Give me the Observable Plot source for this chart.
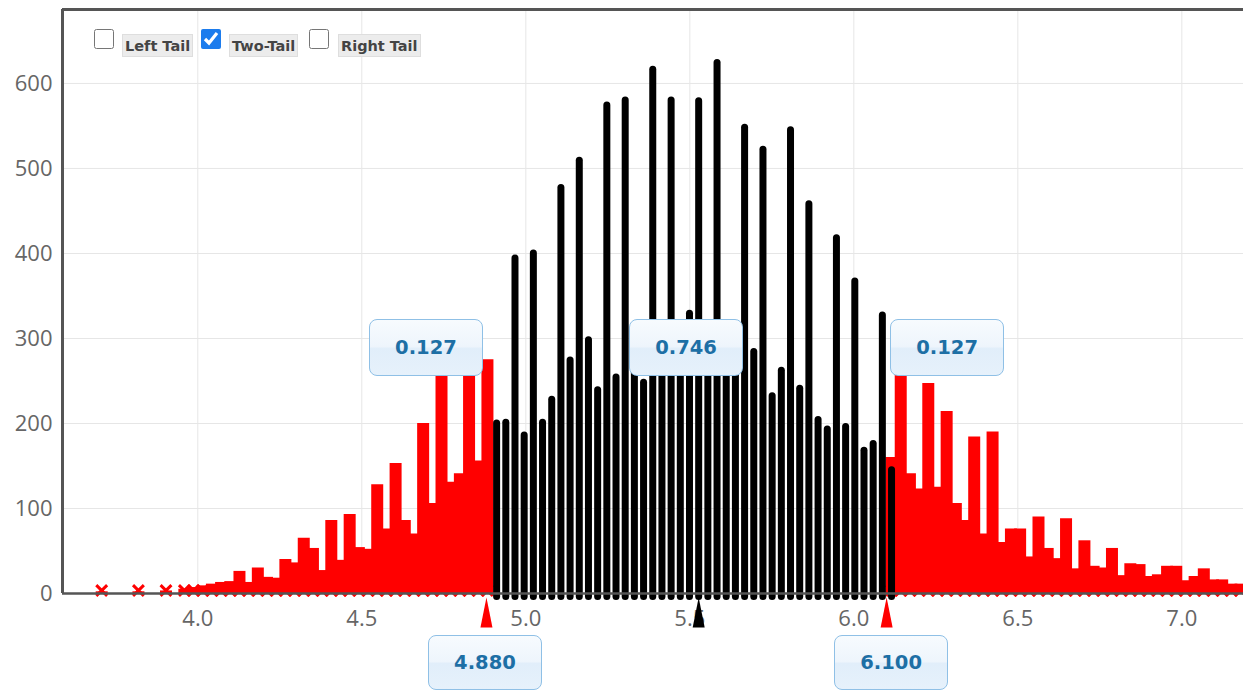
<!DOCTYPE html>
<html><head><meta charset="utf-8">
<script src="https://cdn.jsdelivr.net/npm/d3@7"></script>
<script src="https://cdn.jsdelivr.net/npm/@observablehq/plot@0.6"></script>
<style>
html,body{margin:0;padding:0;background:#fff;}
#wrap{position:relative;width:1243px;height:691px;overflow:hidden;font-family:"DejaVu Sans",sans-serif;}
#wrap svg{position:absolute;left:0;top:0;}
.cb{position:absolute;top:29px;width:20px;height:20px;margin:0;accent-color:#1c7ced;}
.lbl{position:absolute;top:34px;height:21px;line-height:22px;padding:0 2px;background:#ececec;border:1px solid #dedede;font-weight:bold;font-size:14.5px;color:#444;white-space:nowrap;}
.val{position:absolute;width:114px;box-sizing:border-box;border:1.5px solid #8fc0e6;border-radius:8px;
  background:linear-gradient(to bottom,#f7fbfe 0%,#eef5fc 48%,#e1eefa 52%,#e6f1fb 100%);
  color:#1d6fa5;font-weight:bold;font-size:19.5px;display:flex;align-items:center;justify-content:center;}
</style></head>
<body>
<div id="wrap"></div>
<script>
// ---- data ----
const leftTailX = [3.707,3.819,3.903,3.959,3.987,4.015,4.043,4.071,4.099,4.127,4.155,4.183,4.211,4.239,4.267,4.295,4.323,4.351,4.379,4.407,4.435,4.463,4.491,4.519,4.547,4.575,4.603,4.631,4.659,4.687,4.715,4.743,4.771,4.799,4.827,4.855,4.883];
const leftTailCount = [2,2,3,5,7,9,11,13,14,26,13,30,19,18,40,36,65,53,27,86,39,93,54,52,128,76,153,86,70,200,106,262,131,141,268,156,275];

const middleX = [4.911,4.939,4.967,4.995,5.023,5.051,5.079,5.107,5.135,5.163,5.191,5.219,5.247,5.275,5.303,5.331,5.359,5.387,5.415,5.443,5.471,5.499,5.527,5.555,5.583,5.611,5.639,5.667,5.695,5.723,5.751,5.779,5.807,5.835,5.863,5.891,5.919,5.947,5.975,6.003,6.031,6.059,6.087,6.115];
const middleCount = [200,201,394,186,400,201,228,477,274,509,298,239,574,254,580,275,248,616,295,580,305,329,579,300,624,290,270,548,284,522,232,262,545,241,458,204,193,418,196,367,168,176,327,145];

const rightTailX = [6.115,6.143,6.171,6.199,6.227,6.255,6.283,6.311,6.339,6.367,6.395,6.423,6.451,6.479,6.507,6.535,6.563,6.591,6.619,6.647,6.675,6.703,6.731,6.759,6.787,6.815,6.843,6.871,6.899,6.927,6.955,6.983,7.011,7.039,7.067,7.095,7.123,7.151,7.179];
const rightTailCount = [160,262,141,123,247,125,214,106,86,184,70,190,60,76,76,43,90,53,41,88,29,62,32,30,53,21,35,34,20,22,32,32,15,20,29,16,16,11,11];

const cutoffs = [4.88, 6.10];
const cutoffLabels = ["4.880", "6.100"];
const proportions = ["0.127", "0.746", "0.127"];
const observedStat = 5.527;
const xTicks = [4.0, 4.5, 5.0, 5.5, 6.0, 6.5, 7.0];
const yTicks = [0, 100, 200, 300, 400, 500, 600];
const tailOptions = ["Left Tail", "Two-Tail", "Right Tail"];
const tailChecked = [false, true, false];

// ---- tables ----
const red = leftTailX.map((x, i) => ({x, n: leftTailCount[i]}))
  .concat(rightTailX.map((x, i) => ({x, n: rightTailCount[i]})));
const black = middleX.map((x, i) => ({x, n: middleCount[i]}));

const xMin = 3.5875, xMax = 7.188, yMax = 687;

const chart = Plot.plot({
  width: 1243, height: 691,
  marginTop: 9, marginBottom: 98, marginLeft: 62, marginRight: 0,
  x: {domain: [xMin, xMax]},
  y: {domain: [0, yMax]},
  style: {fontFamily: "'Open Sans', sans-serif", fontSize: "22px", color: "#666", background: "transparent", overflow: "visible"},
  marks: [
    Plot.gridX(xTicks, {stroke: "#e6e6e6", strokeOpacity: 1}),
    Plot.gridY(yTicks.slice(1), {stroke: "#e6e6e6", strokeOpacity: 1}),
    Plot.axisX(xTicks, {tickSize: 0, tickPadding: 17, tickFormat: d => d.toFixed(1), label: null, fontSize: 22}),
    Plot.axisY(yTicks, {tickSize: 0, tickPadding: 10, label: null, fontSize: 22}),
    Plot.ruleX(red, {x: "x", y1: 0, y2: "n", stroke: "#ff0000", strokeWidth: 12}),
    Plot.dot(red, {x: "x", y: 0, dy: -3, symbol: "times", r: 5, stroke: "#ff0000", strokeWidth: 3}),
    Plot.ruleX(black, {x: "x", y1: 0, y2: "n", stroke: "#000", strokeWidth: 7, strokeLinecap: "round", insetTop: 3.5}),
    Plot.ruleY([0], {stroke: "#555", strokeWidth: 2.5}),
    Plot.ruleY([yMax], {stroke: "#555", strokeWidth: 3}),
    Plot.ruleX([xMin], {stroke: "#555", strokeWidth: 3}),
    Plot.vector(cutoffs, {x: d => d, y: 0, dy: 34, length: 30, rotate: 0, anchor: "start", shape: "spike", r: 6, fill: "#ff0000", stroke: "none"}),
    Plot.vector([observedStat], {x: d => d, y: 0, dy: 34, length: 30, rotate: 0, anchor: "start", shape: "spike", r: 6, fill: "#000", stroke: "none"})
  ]
});

const wrap = document.getElementById("wrap");
wrap.appendChild(chart);
const sx = chart.scale("x");
const px = v => sx.apply(v);

// tail checkboxes
const cbLeft = [94, 201, 309];
const lblLeft = [122, 229, 338];
tailOptions.forEach((t, i) => {
  const cb = document.createElement("input");
  cb.type = "checkbox"; cb.className = "cb"; cb.checked = tailChecked[i];
  cb.style.left = cbLeft[i] + "px";
  wrap.appendChild(cb);
  const lb = document.createElement("span");
  lb.className = "lbl"; lb.textContent = t; lb.style.left = lblLeft[i] + "px";
  wrap.appendChild(lb);
});

// proportion boxes
function box(text, left, top, h) {
  const d = document.createElement("div");
  d.className = "val"; d.textContent = text;
  d.style.left = left + "px"; d.style.top = top + "px"; d.style.height = h + "px";
  wrap.appendChild(d);
}
const a = px(cutoffs[0]), b = px(cutoffs[1]);
box(proportions[0], a - 117, 319, 57);
box(proportions[1], (a + b) / 2 - 57, 319, 57);
box(proportions[2], b + 4, 319, 57);
box(cutoffLabels[0], a - 58, 635, 55);
box(cutoffLabels[1], b - 52, 635, 55);
</script>
</body></html>
